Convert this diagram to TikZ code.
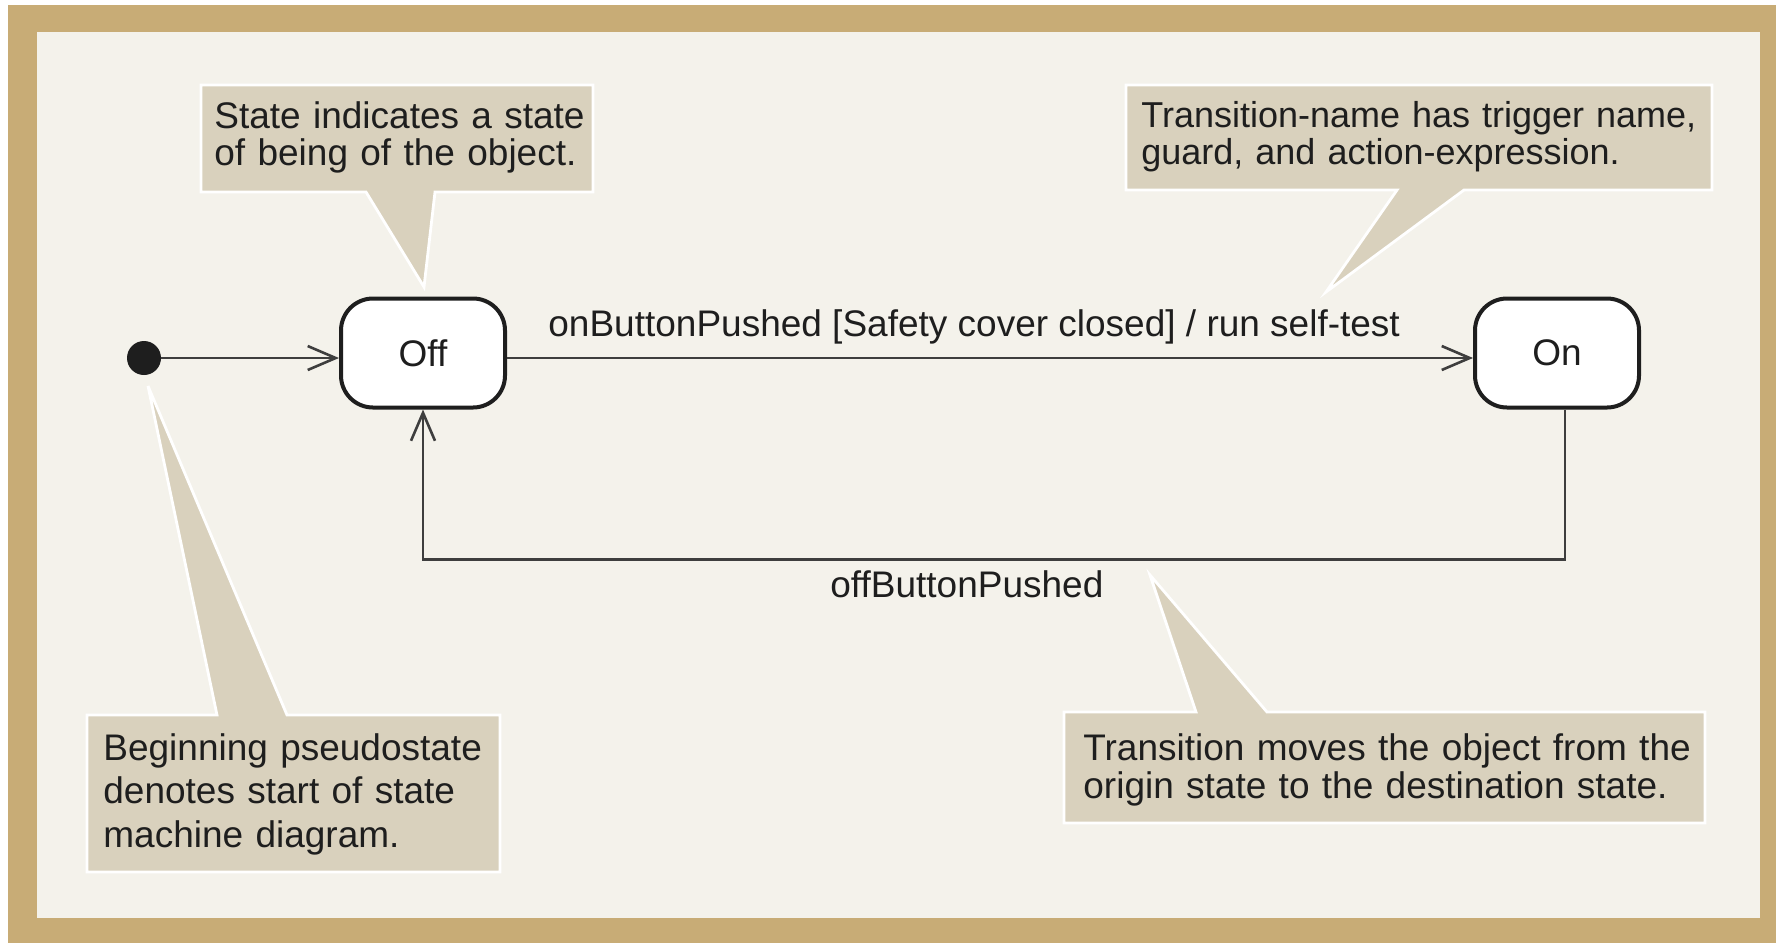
\documentclass[tikz,border=0pt]{standalone}
\usepackage{fontspec}
\setmainfont{Liberation Sans}
\usetikzlibrary{arrows.meta,calc}
\definecolor{frametan}{RGB}{200,172,118}
\definecolor{paper}{RGB}{244,242,235}
\definecolor{notefill}{RGB}{217,209,189}
\definecolor{ink}{RGB}{30,30,30}
\definecolor{wire}{RGB}{62,62,62}
\pgfdeclarelayer{frame}
\pgfdeclarelayer{notes}
\pgfsetlayers{frame,notes,main}
\begin{document}
\begin{tikzpicture}[x={(0.5pt,0)}, y={(0,-0.5pt)},
  txt/.style={font=\fontsize{18.5}{18.5}\selectfont, text=ink, inner sep=0pt},
  notetext/.style={txt, anchor=base west, align=left, text width=#1},
  stateb/.style={draw=ink, line width=2pt, fill=white, rounded corners=16pt,
    minimum width=82pt, minimum height=54.5pt, txt},
  initdot/.style={circle, fill=ink, draw=none, minimum size=17pt, inner sep=0pt},
  trans/.style={draw=wire, line width=1.3pt,
    -{Straight Barb[length=14pt, width=12pt, line width=1.3pt]}},
  notebg/.style={fill=notefill, draw=white, line width=1.4pt, line join=miter},
  ]
\useasboundingbox (0,0) rectangle (1776,943);

% frame and paper
\begin{pgfonlayer}{frame}
  \fill[white] (0,0) rectangle (1776,943);
  \fill[frametan] (8,5) rectangle (1776,943);
  \fill[paper] (37,32) rectangle (1760,918);
\end{pgfonlayer}

% callout pointer tips
\coordinate (tipstate) at (424,287);
\coordinate (tipname) at (1326,292);
\coordinate (tipbegin) at (148,386);
\coordinate (tipmove) at (1150,575);

% callout backgrounds
\begin{pgfonlayer}{notes}
  \draw[notebg] (201,85) -- (593,85) -- (593,192) -- (435,192) -- (tipstate)
     -- (366,192) -- (201,192) -- cycle;
  \draw[notebg] (1126,85) -- (1712,85) -- (1712,190) -- (1464,190) -- (tipname)
     -- (1397,190) -- (1126,190) -- cycle;
  \draw[notebg] (87,715) -- (217,715) -- (tipbegin) -- (287,715) -- (500,715)
     -- (500,872) -- (87,872) -- cycle;
  \draw[notebg] (1064,712) -- (1196,712) -- (tipmove) -- (1267,712) -- (1705,712)
     -- (1705,823) -- (1064,823) -- cycle;
\end{pgfonlayer}

% callout texts
\node[notetext=195pt] (notestate) at (214,128)
  {State indicates a state\\of being of the object.};
\node[notetext=288pt, font=\fontsize{18}{18.5}\selectfont] (notename) at (1141,127)
  {Transition-name has trigger name,\\guard, and action-expression.};
\node[notetext=200pt, font=\fontsize{18.5}{21.75}\selectfont] (notebegin) at (103,760)
  {Beginning pseudostate\\denotes start of state\\machine diagram.};
\node[notetext=312pt, font=\fontsize{18.5}{19}\selectfont] (notemove) at (1083,760)
  {Transition moves the object from the\\origin state to the destination state.};

% states
\node[initdot] (init) at (144,358) {};
\node[stateb] (off) at (423,353) {Off};
\node[stateb] (on) at (1557,353) {On};

% transitions
\draw[trans] (init) -- (init -| off.west);
\draw[trans] (off.east |- init) -- (on.west |- init);
\draw[trans] ([xshift=4pt]on.south) -- ++(0,150) -| (off.south);

% transition labels
\node[txt, anchor=base west] (onlabel) at (548,336)
  {onButtonPushed [Safety cover closed] / run self-test};
\node[txt, anchor=base west] (offlabel) at (830,597) {offButtonPushed};
\end{tikzpicture}
\end{document}
